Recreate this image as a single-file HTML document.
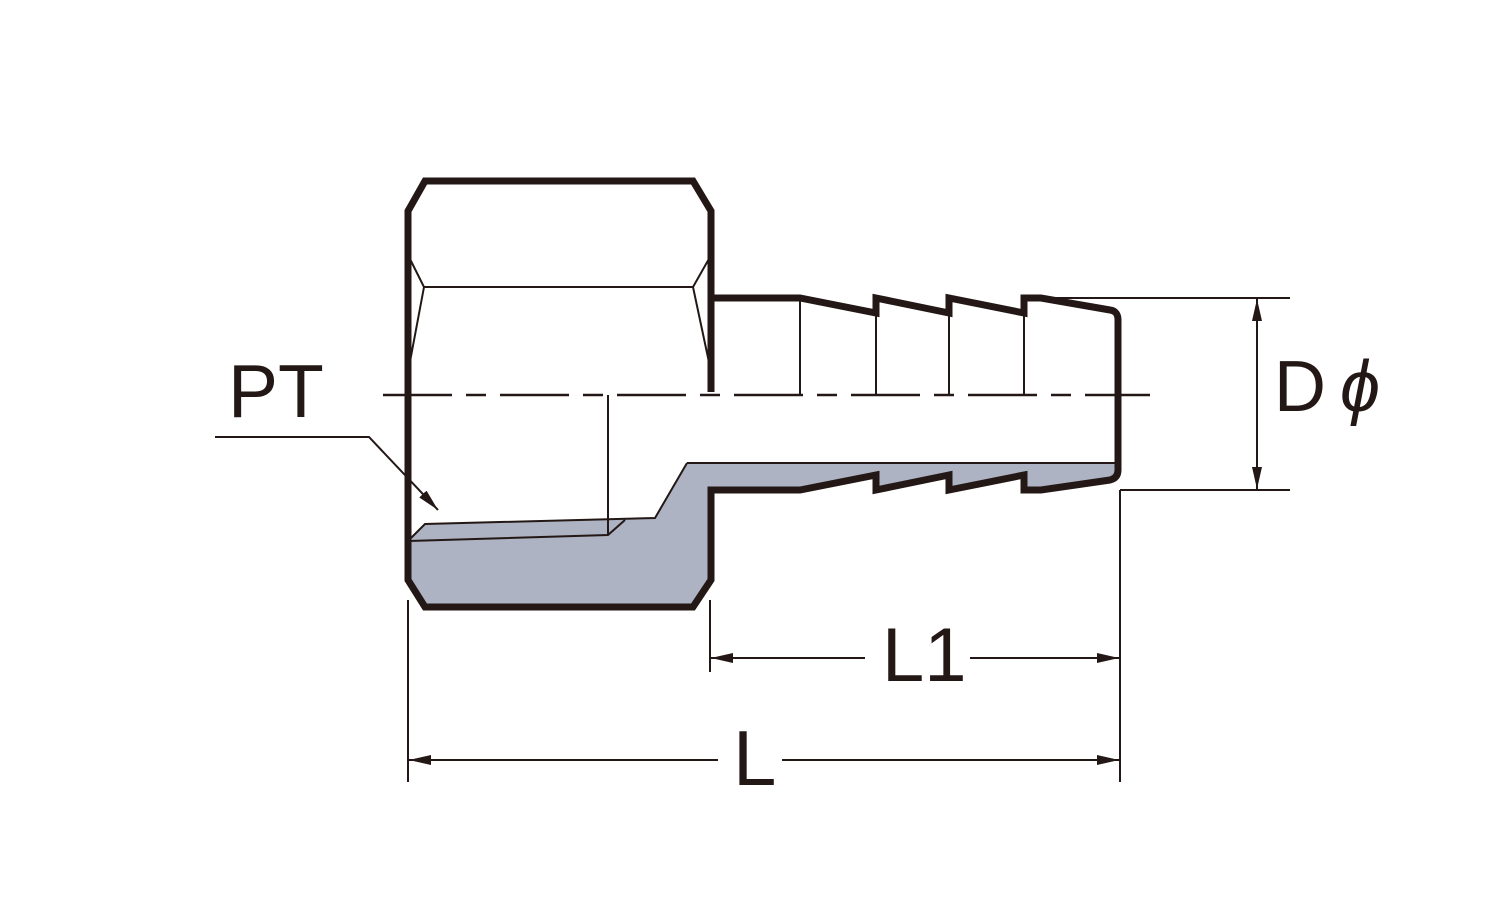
<!DOCTYPE html>
<html><head><meta charset="utf-8"><style>
html,body{margin:0;padding:0;background:#fff;}
svg{display:block;}
text{font-family:"Liberation Sans",sans-serif;fill:#231815;}
</style></head><body>
<svg width="1500" height="900" viewBox="0 0 1500 900" xmlns="http://www.w3.org/2000/svg">
<defs>
<marker id="ar" viewBox="0 0 22 10" refX="22" refY="5" markerWidth="22" markerHeight="10" markerUnits="userSpaceOnUse" orient="auto"><path d="M0,0 L22,5 L0,10 Z" fill="#231815"/></marker>
</defs>
<polygon points="408,540 425,524 655,518 687,463 1118,463 1118,478 1112,482 1046,488 1024,492 1024,476 949,492 949,476 876,492 876,476 800,490 711,490 711,580 693,607 425,607 408,580" fill="#adb3c2"/>
<g stroke="#231815" fill="none">
<path d="M711,392 L711,211 L693,181 L425,181 L408,211 L408,580 L425,607 L693,607 L711,580 L711,490 L800,490 L876,475 L876,490 L949,475 L949,490 L1024,475 L1024,490 L1041,490 L1110,480 Q1118,478 1118,470 L1118,320 Q1118,311 1110,310 L1041,298 L1024,298 L1024,313 L949,298 L949,313 L876,298 L876,313 L800,298 L711,298" stroke-width="7" stroke-linejoin="miter"/>
<g stroke-width="2">
<path d="M409,257 L424,287 L409,367"/>
<path d="M710,257 L693,287 L710,367"/>
<line x1="424" y1="287" x2="693" y2="287"/>
<line x1="800" y1="300" x2="800" y2="395"/>
<line x1="876" y1="306" x2="876" y2="395"/>
<line x1="949" y1="306" x2="949" y2="395"/>
<line x1="1024" y1="306" x2="1024" y2="395"/>
<line x1="608" y1="395" x2="608" y2="535"/>
<path d="M687,463 L1118,463"/>
<path d="M687,463 L655,518 L425,524 L409,540"/>
<path d="M409,541 L608,535 L625,520"/>
<line x1="1041" y1="298" x2="1290" y2="298"/>
<line x1="1120" y1="490" x2="1290" y2="490"/>
<line x1="1257" y1="395" x2="1257" y2="299" marker-end="url(#ar)"/>
<line x1="1257" y1="395" x2="1257" y2="489" marker-end="url(#ar)"/>
<line x1="710" y1="600" x2="710" y2="672"/>
<line x1="1120" y1="490" x2="1120" y2="782"/>
<line x1="408" y1="600" x2="408" y2="782"/>
<line x1="865" y1="658" x2="711" y2="658" marker-end="url(#ar)"/>
<line x1="970" y1="658" x2="1119" y2="658" marker-end="url(#ar)"/>
<line x1="718" y1="760" x2="409" y2="760" marker-end="url(#ar)"/>
<line x1="782" y1="760" x2="1119" y2="760" marker-end="url(#ar)"/>
<path d="M215,437 L369,437 L438,510" marker-end="url(#ar)"/>
</g>
<line x1="383" y1="395" x2="1150" y2="395" stroke-width="2.5" stroke-dasharray="69,14,20,14"/>
</g>
<text x="228" y="417" font-size="75">PT</text>
<text x="1274" y="411" font-size="72">D</text>
<text x="1340" y="411" font-size="72" font-style="italic">ϕ</text>
<text x="882" y="681" font-size="76">L1</text>
<text x="733" y="785" font-size="78">L</text>
</svg>
</body></html>
